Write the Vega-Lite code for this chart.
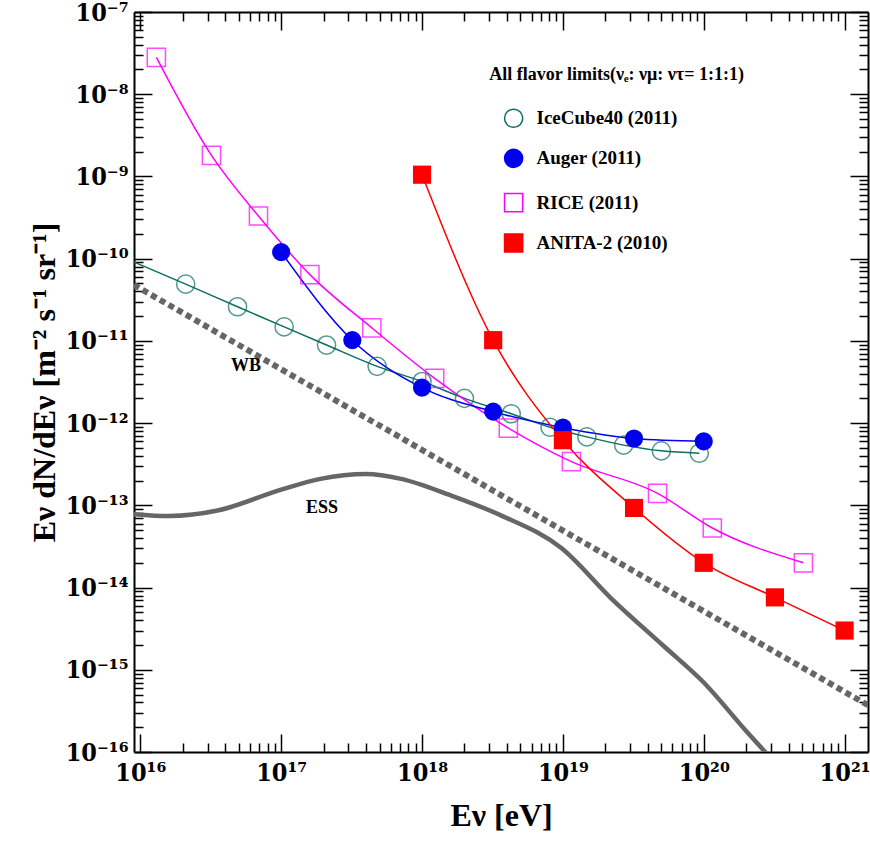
{
  "$schema": "https://vega.github.io/schema/vega-lite/v6.json",
  "width": 734,
  "height": 740,
  "autosize": "none",
  "padding": {"left": 134, "top": 12, "right": 2, "bottom": 93},
  "background": "white",
  "config": {
    "view": {"stroke": null},
    "axis": {
      "labelFont": "DejaVu Serif Condensed, DejaVu Serif", "labelFontWeight": "bold", "labelFontSize": 25, "labelColor": "black",
      "titleFont": "Liberation Serif", "titleFontWeight": "bold", "titleFontSize": 32, "titleColor": "black",
      "domainColor": "black", "domainWidth": 2, "tickColor": "black", "tickWidth": 1.5, "grid": false
    }
  },
  "datasets": {
    "rice": [
      {"e": 1.3e16, "f": 2.8e-8}, {"e": 3.2e16, "f": 1.8e-9}, {"e": 6.9e16, "f": 3.3e-10},
      {"e": 1.6e17, "f": 6.4e-11}, {"e": 4.4e17, "f": 1.44e-11}, {"e": 1.23e18, "f": 3.5e-12},
      {"e": 4.1e18, "f": 8.7e-13}, {"e": 1.15e19, "f": 3.4e-13}, {"e": 4.7e19, "f": 1.4e-13},
      {"e": 1.15e20, "f": 5.3e-14}, {"e": 5.1e20, "f": 2.0e-14}
    ],
    "ice": [
      {"e": 9.0e15, "f": 9.1e-11, "pt": 0},
      {"e": 2.1e16, "f": 4.9e-11, "pt": 1}, {"e": 4.9e16, "f": 2.6e-11, "pt": 1},
      {"e": 1.05e17, "f": 1.48e-11, "pt": 1}, {"e": 2.1e17, "f": 8.9e-12, "pt": 1},
      {"e": 4.8e17, "f": 4.9e-12, "pt": 1}, {"e": 1.0e18, "f": 3.2e-12, "pt": 1},
      {"e": 2.0e18, "f": 2.0e-12, "pt": 1}, {"e": 4.3e18, "f": 1.3e-12, "pt": 1},
      {"e": 8.1e18, "f": 8.9e-13, "pt": 1}, {"e": 1.48e19, "f": 6.8e-13, "pt": 1},
      {"e": 2.7e19, "f": 5.4e-13, "pt": 1}, {"e": 5.0e19, "f": 4.6e-13, "pt": 1},
      {"e": 9.3e19, "f": 4.3e-13, "pt": 1}
    ],
    "auger": [
      {"e": 1.0e17, "f": 1.2e-10}, {"e": 3.2e17, "f": 1.02e-11}, {"e": 1.0e18, "f": 2.7e-12},
      {"e": 3.2e18, "f": 1.38e-12}, {"e": 1.0e19, "f": 8.8e-13}, {"e": 3.2e19, "f": 6.5e-13},
      {"e": 1.0e20, "f": 6.0e-13}
    ],
    "anita": [
      {"e": 1.0e18, "f": 1.05e-9}, {"e": 3.2e18, "f": 1.02e-11}, {"e": 1.0e19, "f": 6.2e-13},
      {"e": 3.2e19, "f": 9.3e-14}, {"e": 1.0e20, "f": 2.0e-14}, {"e": 3.2e20, "f": 7.6e-15},
      {"e": 1.0e21, "f": 3.0e-15}
    ],
    "wb": [{"e": 9.0e15, "f": 4.8e-11}, {"e": 1.47e21, "f": 3.7e-16}],
    "ess": [
      {"e": 9.0e15, "f": 7.8e-14}, {"e": 1.6e16, "f": 7.4e-14}, {"e": 3.6e16, "f": 8.7e-14},
      {"e": 1.0e17, "f": 1.55e-13}, {"e": 1.9e17, "f": 2.1e-13}, {"e": 4.0e17, "f": 2.4e-13},
      {"e": 7.1e17, "f": 2.1e-13}, {"e": 1.6e18, "f": 1.32e-13}, {"e": 3.6e18, "f": 7.6e-14},
      {"e": 9.8e18, "f": 3.0e-14}, {"e": 2.2e19, "f": 7.4e-15}, {"e": 5.1e19, "f": 2.0e-15},
      {"e": 1.0e20, "f": 7.0e-16}, {"e": 2.0e20, "f": 1.8e-16}, {"e": 3.6e20, "f": 6e-17}
    ],
    "leg": [
      {"name": "IceCube40 (2011)", "e": 4.47e18, "f": 5.1e-9, "te": 6.5e18},
      {"name": "Auger (2011)", "e": 4.47e18, "f": 1.66e-9, "te": 6.5e18},
      {"name": "RICE (2011)", "e": 4.47e18, "f": 4.8e-10, "te": 6.5e18},
      {"name": "ANITA-2 (2010)", "e": 4.47e18, "f": 1.55e-10, "te": 6.5e18}
    ],
    "notes": [
      {"t": "WB", "e": 4.4e16, "f": 4.9e-12},
      {"t": "ESS", "e": 1.5e17, "f": 9.3e-14},
      {"t": "All flavor limits(νₑ: νμ: ντ= 1:1:1)", "e": 3.0e18, "f": 1.7e-8}
    ]
  },
  "resolve": {"axis": {"x": "independent", "y": "independent"}},
  "layer": [
    {
      "data": {"name": "ess"},
      "mark": {"type": "line", "color": "#666666", "strokeWidth": 4.5, "interpolate": "monotone", "clip": true},
      "encoding": {
        "x": {"field": "e", "type": "quantitative",
          "scale": {"type": "log", "domain": [9.02e15, 1.466e21], "nice": false},
          "axis": {
            "title": "Eν [eV]", "titlePadding": 6,
            "values": [1e16,2e16,3e16,4e16,5e16,6e16,7e16,8e16,9e16,1e17,2e17,3e17,4e17,5e17,6e17,7e17,8e17,9e17,1e18,2e18,3e18,4e18,5e18,6e18,7e18,8e18,9e18,1e19,2e19,3e19,4e19,5e19,6e19,7e19,8e19,9e19,1e20,2e20,3e20,4e20,5e20,6e20,7e20,8e20,9e20,1e21],
            "labelExpr": "abs(log(datum.value)/LN10-round(log(datum.value)/LN10))>0.001 ? '' : '10' + ['¹⁶','¹⁷','¹⁸','¹⁹','²⁰','²¹'][round(log(datum.value)/LN10)-16]",
            "tickSize": {"condition": {"test": "abs(log(datum.value)/LN10-round(log(datum.value)/LN10))<0.001", "value": -18}, "value": -9},
            "labelPadding": 26, "labelFlush": false, "labelOverlap": false
          }},
        "y": {"field": "f", "type": "quantitative",
          "scale": {"type": "log", "domain": [1e-16, 1e-7], "nice": false},
          "axis": {
            "title": "Eν dN/dEν  [m⁻² s⁻¹ sr⁻¹]", "titlePadding": 4,
            "values": [1e-16,2e-16,3e-16,4e-16,5e-16,6e-16,7e-16,8e-16,9e-16,1e-15,2e-15,3e-15,4e-15,5e-15,6e-15,7e-15,8e-15,9e-15,1e-14,2e-14,3e-14,4e-14,5e-14,6e-14,7e-14,8e-14,9e-14,1e-13,2e-13,3e-13,4e-13,5e-13,6e-13,7e-13,8e-13,9e-13,1e-12,2e-12,3e-12,4e-12,5e-12,6e-12,7e-12,8e-12,9e-12,1e-11,2e-11,3e-11,4e-11,5e-11,6e-11,7e-11,8e-11,9e-11,1e-10,2e-10,3e-10,4e-10,5e-10,6e-10,7e-10,8e-10,9e-10,1e-9,2e-9,3e-9,4e-9,5e-9,6e-9,7e-9,8e-9,9e-9,1e-8,2e-8,3e-8,4e-8,5e-8,6e-8,7e-8,8e-8,9e-8,1e-7],
            "labelExpr": "abs(log(datum.value)/LN10-round(log(datum.value)/LN10))>0.001 ? '' : '10' + ['⁻¹⁶','⁻¹⁵','⁻¹⁴','⁻¹³','⁻¹²','⁻¹¹','⁻¹⁰','⁻⁹','⁻⁸','⁻⁷'][round(log(datum.value)/LN10)+16]",
            "tickSize": {"condition": {"test": "abs(log(datum.value)/LN10-round(log(datum.value)/LN10))<0.001", "value": -18}, "value": -9},
            "labelPadding": 24, "labelOverlap": false, "labelFlush": false
          }}
      }
    },
    {
      "data": {"name": "wb"},
      "mark": {"type": "line", "color": "#666666", "strokeWidth": 6, "strokeDash": [6, 4], "clip": true},
      "encoding": {
        "x": {"field": "e", "type": "quantitative",
          "axis": {"orient": "top", "title": null, "labels": false,
            "values": [1e16,2e16,3e16,4e16,5e16,6e16,7e16,8e16,9e16,1e17,2e17,3e17,4e17,5e17,6e17,7e17,8e17,9e17,1e18,2e18,3e18,4e18,5e18,6e18,7e18,8e18,9e18,1e19,2e19,3e19,4e19,5e19,6e19,7e19,8e19,9e19,1e20,2e20,3e20,4e20,5e20,6e20,7e20,8e20,9e20,1e21],
            "tickSize": {"condition": {"test": "abs(log(datum.value)/LN10-round(log(datum.value)/LN10))<0.001", "value": -18}, "value": -9}}},
        "y": {"field": "f", "type": "quantitative",
          "axis": {"orient": "right", "title": null, "labels": false,
            "values": [1e-16,2e-16,3e-16,4e-16,5e-16,6e-16,7e-16,8e-16,9e-16,1e-15,2e-15,3e-15,4e-15,5e-15,6e-15,7e-15,8e-15,9e-15,1e-14,2e-14,3e-14,4e-14,5e-14,6e-14,7e-14,8e-14,9e-14,1e-13,2e-13,3e-13,4e-13,5e-13,6e-13,7e-13,8e-13,9e-13,1e-12,2e-12,3e-12,4e-12,5e-12,6e-12,7e-12,8e-12,9e-12,1e-11,2e-11,3e-11,4e-11,5e-11,6e-11,7e-11,8e-11,9e-11,1e-10,2e-10,3e-10,4e-10,5e-10,6e-10,7e-10,8e-10,9e-10,1e-9,2e-9,3e-9,4e-9,5e-9,6e-9,7e-9,8e-9,9e-9,1e-8,2e-8,3e-8,4e-8,5e-8,6e-8,7e-8,8e-8,9e-8,1e-7],
            "tickSize": {"condition": {"test": "abs(log(datum.value)/LN10-round(log(datum.value)/LN10))<0.001", "value": -18}, "value": -9}}}
      }
    },
    {
      "data": {"name": "ice"},
      "mark": {"type": "line", "color": "#0b6e5f", "strokeWidth": 1.5, "interpolate": "monotone", "clip": true},
      "encoding": {"x": {"field": "e", "type": "quantitative", "axis": null}, "y": {"field": "f", "type": "quantitative", "axis": null}}
    },
    {
      "data": {"name": "rice"},
      "mark": {"type": "line", "color": "#ff00ff", "strokeWidth": 1.5, "interpolate": "monotone", "clip": true},
      "encoding": {"x": {"field": "e", "type": "quantitative", "axis": null}, "y": {"field": "f", "type": "quantitative", "axis": null}}
    },
    {
      "data": {"name": "auger"},
      "mark": {"type": "line", "color": "#0000ee", "strokeWidth": 1.5, "interpolate": "monotone", "clip": true},
      "encoding": {"x": {"field": "e", "type": "quantitative", "axis": null}, "y": {"field": "f", "type": "quantitative", "axis": null}}
    },
    {
      "data": {"name": "anita"},
      "mark": {"type": "line", "color": "#ff0000", "strokeWidth": 1.5, "interpolate": "monotone", "clip": true},
      "encoding": {"x": {"field": "e", "type": "quantitative", "axis": null}, "y": {"field": "f", "type": "quantitative", "axis": null}}
    },
    {
      "data": {"name": "ice"},
      "transform": [{"filter": "datum.pt == 1"}],
      "mark": {"type": "point", "shape": "circle", "filled": false, "color": "#0b6e5f", "size": 330, "strokeWidth": 1.5},
      "encoding": {"x": {"field": "e", "type": "quantitative", "axis": null}, "y": {"field": "f", "type": "quantitative", "axis": null}}
    },
    {
      "data": {"name": "rice"},
      "mark": {"type": "point", "shape": "square", "filled": false, "color": "#ff00ff", "size": 330, "strokeWidth": 1.5},
      "encoding": {"x": {"field": "e", "type": "quantitative", "axis": null}, "y": {"field": "f", "type": "quantitative", "axis": null}}
    },
    {
      "data": {"name": "auger"},
      "mark": {"type": "point", "shape": "circle", "filled": true, "color": "#0000ee", "size": 330, "opacity": 1},
      "encoding": {"x": {"field": "e", "type": "quantitative", "axis": null}, "y": {"field": "f", "type": "quantitative", "axis": null}}
    },
    {
      "data": {"name": "anita"},
      "mark": {"type": "point", "shape": "square", "filled": true, "color": "#ff0000", "size": 330, "opacity": 1},
      "encoding": {"x": {"field": "e", "type": "quantitative", "axis": null}, "y": {"field": "f", "type": "quantitative", "axis": null}}
    },
    {
      "data": {"name": "leg"},
      "mark": {"type": "point", "size": 330, "strokeWidth": 1.5, "opacity": 1},
      "encoding": {
        "x": {"field": "e", "type": "quantitative", "axis": null},
        "y": {"field": "f", "type": "quantitative", "axis": null},
        "shape": {"field": "name", "type": "nominal", "legend": null,
          "scale": {"domain": ["IceCube40 (2011)", "Auger (2011)", "RICE (2011)", "ANITA-2 (2010)"], "range": ["circle", "circle", "square", "square"]}},
        "stroke": {"field": "name", "type": "nominal", "legend": null,
          "scale": {"domain": ["IceCube40 (2011)", "Auger (2011)", "RICE (2011)", "ANITA-2 (2010)"], "range": ["#0b6e5f", "#0000ee", "#ff00ff", "#ff0000"]}},
        "fill": {"field": "name", "type": "nominal", "legend": null,
          "scale": {"domain": ["IceCube40 (2011)", "Auger (2011)", "RICE (2011)", "ANITA-2 (2010)"], "range": ["transparent", "#0000ee", "transparent", "#ff0000"]}}
      }
    },
    {
      "data": {"name": "leg"},
      "mark": {"type": "text", "align": "left", "baseline": "middle", "font": "Liberation Serif", "fontWeight": "bold", "fontSize": 19, "color": "black"},
      "encoding": {
        "x": {"field": "te", "type": "quantitative", "axis": null},
        "y": {"field": "f", "type": "quantitative", "axis": null},
        "text": {"field": "name"}
      }
    },
    {
      "data": {"name": "notes"},
      "mark": {"type": "text", "align": "left", "baseline": "middle", "font": "Liberation Serif", "fontWeight": "bold", "fontSize": 18, "color": "black"},
      "encoding": {
        "x": {"field": "e", "type": "quantitative", "axis": null},
        "y": {"field": "f", "type": "quantitative", "axis": null},
        "text": {"field": "t"}
      }
    }
  ]
}
